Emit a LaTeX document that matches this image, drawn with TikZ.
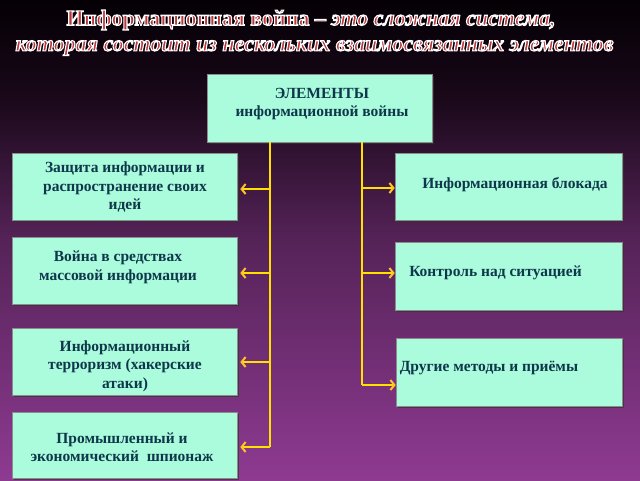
\documentclass[tikz,border=0pt]{standalone}
\usepackage{fontspec}
\setmainfont{Liberation Serif}
\usetikzlibrary{arrows.meta,shadows}
\definecolor{boxfill}{RGB}{170,252,220}
\definecolor{boxtext}{RGB}{15,55,75}
\definecolor{lineyel}{RGB}{255,225,0}
\definecolor{arrowor}{RGB}{255,195,40}
\definecolor{titlered}{RGB}{185,55,60}
\definecolor{bgA}{RGB}{142,58,145}
\definecolor{bgB}{RGB}{85,35,88}
\definecolor{bgC}{RGB}{25,8,25}
\definecolor{bgD}{RGB}{4,0,4}
\pgfdeclareverticalshading{bgshade}{100bp}{color(0bp)=(bgA); color(25bp)=(bgA); color(50bp)=(bgB); color(65bp)=(bgC); color(75bp)=(bgD); color(100bp)=(bgD)}
\newcommand{\outlinedtext}[1]{\textcolor{titlered}{\special{pdf:literal direct 2 Tr 1.1 w 1 1 1 RG}#1\special{pdf:literal direct 0 Tr}}}
\begin{document}
\begin{tikzpicture}[x=1pt,y=-1pt,
  box/.style={draw=black!45, line width=0.6pt, fill=boxfill, inner sep=0pt,
    drop shadow={shadow xshift=2pt,shadow yshift=-2pt,fill=black!80,opacity=0.7}},
  txt/.style={text=boxtext, font=\bfseries\fontsize{15.5}{18.5}\selectfont, align=center, inner sep=0pt},
  titletxt/.style={inner sep=0pt, font=\bfseries\fontsize{22}{26}\selectfont},
  conn/.style={lineyel, line width=2pt},
  arr/.style={lineyel, line width=2pt, -{Straight Barb[length=4pt,width=10pt,line width=2pt,color=arrowor]}}]
\useasboundingbox (0,0) rectangle (640,480);
\shade[shading=bgshade] (0,0) rectangle (640,480);
% title
\node[titletxt] (ti1) at (311,20) {\outlinedtext{Информационная война – \itshape это сложная система,}};
\node[titletxt] (ti2) at (314.5,48) {\outlinedtext{\itshape которая состоит из нескольких взаимосвязанных элементов}};
% boxes
\node[box, minimum width=225pt, minimum height=68pt] (cb) at (319.5,108) {};
\node[box, minimum width=225pt, minimum height=67pt] (b1) at (124.5,186.5) {};
\node[box, minimum width=225pt, minimum height=67pt] (b2) at (124.5,270.5) {};
\node[box, minimum width=225pt, minimum height=67pt] (b3) at (124.5,361.5) {};
\node[box, minimum width=225pt, minimum height=66pt] (b4) at (124.5,445) {};
\node[box, minimum width=227pt, minimum height=67pt] (b5) at (508.5,186.5) {};
\node[box, minimum width=227pt, minimum height=68pt] (b6) at (508.5,276) {};
\node[box, minimum width=226pt, minimum height=68pt] (b7) at (509,372) {};
% texts
\node[txt] (ct) at (322,104) {ЭЛЕМЕНТЫ\\информационной войны};
\node[txt] (t1) at (125,187) {Защита информации и\\распространение своих\\идей};
\node[txt] (t2) at (118,267.5) {Война в средствах\\массовой информации};
\node[txt] (t3) at (125,366) {Информационный\\терроризм (хакерские\\атаки)};
\node[txt] (t4) at (122,447) {Промышленный и\\экономический\ \ шпионаж};
\node[txt] (t5) at (515,185) {Информационная блокада};
\node[txt] (t6) at (495.5,273) {Контроль над ситуацией};
\node[txt] (t7) at (489,368) {Другие методы и приёмы};
% connectors
\coordinate (a1) at (270,189);
\coordinate (a2) at (270,273);
\coordinate (a3) at (270,362);
\coordinate (a4) at (270,447);
\coordinate (a5) at (362,188);
\coordinate (a6) at (362,273);
\coordinate (a7) at (362,385);
\draw[conn] (cb.south -| a4) -- (a4);
\draw[conn] (cb.south -| a7) -- (a7);
\draw[arr] (a1) -- ([xshift=3pt]a1 -| b1.east);
\draw[arr] (a2) -- ([xshift=3pt]a2 -| b2.east);
\draw[arr] (a3) -- ([xshift=3pt]a3 -| b3.east);
\draw[arr] (a4) -- ([xshift=3pt]a4 -| b4.east);
\draw[arr] (a5) -- (a5 -| b5.west);
\draw[arr] (a6) -- (a6 -| b6.west);
\draw[arr] (a7) -- (a7 -| b7.west);
\end{tikzpicture}
\end{document}
